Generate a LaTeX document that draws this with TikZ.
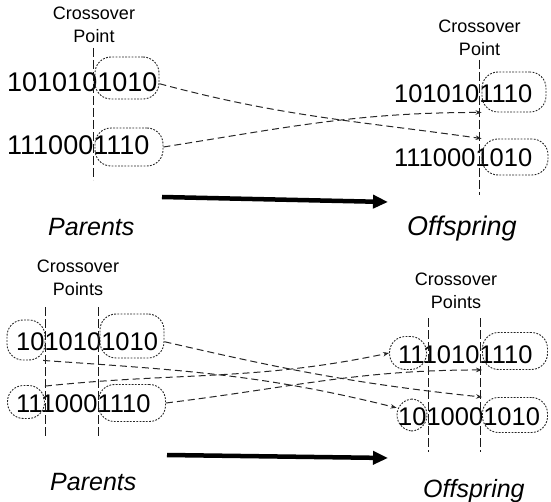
\documentclass[tikz,border=0pt]{standalone}
\usepackage{fontspec}
\setmainfont{Liberation Sans}
\usetikzlibrary{arrows.meta}

\begin{document}
\begin{tikzpicture}[x=1pt,y=1pt,
		bits/.style={font=\fontsize{25.5}{30}\selectfont, inner sep=0pt, anchor=base west},
		bigbits/.style={bits, font=\fontsize{27}{32}\selectfont},
		cxlabel/.style={font=\fontsize{18}{23}\selectfont, align=center, inner sep=0pt},
		tag/.style={font=\fontsize{25}{30}\selectfont\itshape, inner sep=0pt, anchor=base west},
		oval/.style={draw=black!85, rectangle, rounded corners=16pt, dash pattern=on 1.8pt off 1.4pt, line width=0.9pt, inner sep=0pt},
		cutline/.style={draw=black!90, dash pattern=on 9pt off 3pt, line width=1pt},
		swap/.style={draw=black!85, dash pattern=on 7pt off 4pt, line width=1pt, -{Stealth[length=6pt,width=4.5pt]}},
		bigarrow/.style={line width=4.5pt, -{Triangle[length=15pt,width=13pt]}}]

		\useasboundingbox (0,0) rectangle (551,501);

		% one crossover point
		\node[cxlabel] (cxP) at (94,476) {Crossover\\Point};
		\node[bigbits] (p1) at (7,409) {1010101010};
		\node[bigbits] (p2) at (7,346) {1110001110};
		\node[oval, minimum width=64pt, minimum height=42pt] (p1r) at (127,423) {};
		\node[oval, minimum width=68pt, minimum height=38pt] (p2r) at (129,354) {};
		\coordinate (cutPa) at (93,453);
		\coordinate (cutPb) at (93,321);
		\draw[cutline] (cutPa) -- (cutPb);

		\node[cxlabel] (cxO) at (479.5,463.5) {Crossover\\Point};
		\node[bits] (o1) at (394,398) {1010101110};
		\node[bits] (o2) at (394,334) {1110001010};
		\node[oval, minimum width=64pt, minimum height=40pt] (o1r) at (514,409) {};
		\node[oval, minimum width=66pt, minimum height=36pt] (o2r) at (515,344) {};
		\coordinate (cutOa) at (479,441);
		\coordinate (cutOb) at (479,306);
		\draw[cutline] (cutOa) -- (cutOb);

		\draw[swap] (p1r.-10) to[out=-15,in=172] (o2r.north west);
		\draw[swap] (p2r.east) to[out=9,in=180] (o1r.south west);

		\coordinate (goA) at (162,304);
		\coordinate (goB) at (388,299);
		\draw[bigarrow] (goA) -- (goB);
		\node[tag] (parTop) at (48,265) {Parents};
		\node[tag, font=\fontsize{27}{30}\selectfont\itshape] (offTop) at (407,265) {Offspring};

		% two crossover points
		\node[cxlabel] (cxQ) at (78,223.5) {Crossover\\Points};
		\node[bits] (q1) at (16,151) {1010101010};
		\node[bits] (q2) at (16,89) {1110001110};
		\node[oval, minimum width=38pt, minimum height=40pt] (q1a) at (26,161) {};
		\node[oval, minimum width=64pt, minimum height=44pt] (q1b) at (132,165) {};
		\node[oval, minimum width=37pt, minimum height=33pt] (q2a) at (26,99) {};
		\node[oval, minimum width=67pt, minimum height=37pt] (q2b) at (132,98) {};
		\coordinate (cutQa) at (45,194);
		\coordinate (cutQb) at (45,64);
		\coordinate (cutQc) at (98,194);
		\coordinate (cutQd) at (98,64);
		\draw[cutline] (cutQa) -- (cutQb);
		\draw[cutline] (cutQc) -- (cutQd);

		\node[cxlabel] (cxR) at (456,210.5) {Crossover\\Points};
		\node[bits] (r1) at (398,138) {1110101110};
		\node[bits] (r2) at (398,76) {1010001010};
		\node[oval, minimum width=37pt, minimum height=33pt] (r1a) at (408,148) {};
		\node[oval, minimum width=65pt, minimum height=37pt] (r1b) at (515,150) {};
		\node[oval, minimum width=30pt, minimum height=32pt] (r2a) at (412,86) {};
		\node[oval, minimum width=65pt, minimum height=35pt] (r2b) at (515,86) {};
		\coordinate (cutRa) at (428,183);
		\coordinate (cutRb) at (428,49);
		\coordinate (cutRc) at (480,183);
		\coordinate (cutRd) at (480,49);
		\draw[cutline] (cutRa) -- (cutRb);
		\draw[cutline] (cutRc) -- (cutRd);

		\draw[swap] (q1b.-10) to[out=-13,in=174] (r2b.north west);
		\draw[swap] (q2b.east) to[out=7,in=180] (r1b.south west);
		\draw[swap] (q1a.-50) to[out=-4,in=166] (r2a.155);
		\draw[swap] (q2a.40) to[out=6,in=192] (r1a.west);

		\coordinate (goC) at (167,46);
		\coordinate (goD) at (388,43);
		\draw[bigarrow] (goC) -- (goD);
		\node[tag] (parBot) at (50,11) {Parents};
		\node[tag] (offBot) at (423,4) {Offspring};

	\end{tikzpicture}
\end{document}
